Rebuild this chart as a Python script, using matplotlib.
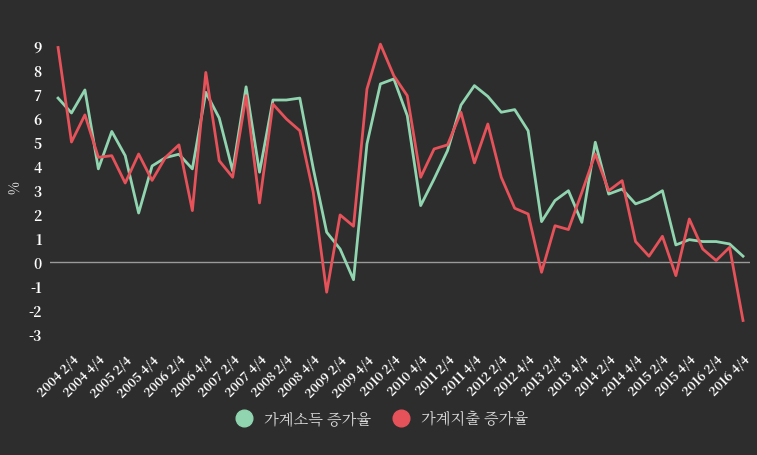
import matplotlib
matplotlib.use("Agg")
import matplotlib.pyplot as plt
import matplotlib.transforms as mtransforms
from matplotlib import font_manager as fm
from matplotlib.lines import Line2D

cjk = None
for f in fm.findSystemFonts():
    if "CJK" in f and ("Regular" in f or "CJK" in f):
        cjk = f
        if "Regular" in f:
            break
families = ["DejaVu Sans"]
if cjk:
    fm.fontManager.addfont(cjk)
    families = [fm.FontProperties(fname=cjk).get_name(), "DejaVu Sans"]
plt.rcParams["font.family"] = families

quarters = [f"{y} {q}/4" for y in range(2004, 2017) for q in range(1, 5)]
income = [6.83, 6.21, 7.17, 3.88, 5.44, 4.43, 2.04, 4.0, 4.35, 4.49, 3.88, 7.07, 6.0, 3.8, 7.3, 3.74,
          6.75, 6.75, 6.83, 3.9, 1.24, 0.54, -0.74, 4.92, 7.42, 7.63, 6.1, 2.35, 3.46, 4.64, 6.54, 7.35,
          6.9, 6.24, 6.35, 5.47, 1.68, 2.56, 2.97, 1.65, 4.99, 2.83, 3.04, 2.42, 2.63, 2.97, 0.71, 0.93,
          0.85, 0.85, 0.75, 0.24]
spending = [8.94, 5.0, 6.13, 4.36, 4.43, 3.29, 4.5, 3.4, 4.36, 4.88, 2.14, 7.9, 4.22, 3.53, 6.93, 2.46,
            6.58, 5.96, 5.47, 2.9, -1.26, 1.96, 1.49, 7.21, 9.08, 7.76, 6.93, 3.53, 4.71, 4.88, 6.24, 4.13,
            5.75, 3.53, 2.24, 2.0, -0.43, 1.51, 1.35, 2.9, 4.5, 2.97, 3.39, 0.85, 0.24, 1.07, -0.57, 1.79,
            0.54, 0.06, 0.61, -2.44]
yticks = list(range(-3, 10))
series_names = ["가계소득 증가율", "가계지출 증가율"]

bg = "#2d2d2d"
green = "#90d4b0"
red = "#e5525a"
fig = plt.figure(figsize=(7.57, 4.56), dpi=100, facecolor=bg)
ax = fig.add_axes([50/757, 1-345/456, 700/757, 315/456], facecolor=bg)
x = list(range(len(quarters)))
ax.plot(x, income, color=green, lw=2)
ax.plot(x, spending, color=red, lw=2)
ax.axhline(0, color="#9a9a9a", lw=1, zorder=0)
ax.set_xlim(-0.6, 51.52)
ax.set_ylim(-3.42, 9.71)
for s in ax.spines.values():
    s.set_visible(False)
ax.set_yticks(yticks)
ax.set_yticklabels([str(v) for v in yticks], color="white", fontsize=10, fontweight="bold")
off = mtransforms.ScaledTranslation(0, 8/100, fig.dpi_scale_trans)
for lab in ax.get_yticklabels():
    lab.set_transform(lab.get_transform() + off)
ax.tick_params(axis="both", length=0, pad=6)
ax.set_xticks(x[1::2])
ax.set_xticklabels(quarters[1::2], rotation=45, ha="right", rotation_mode="anchor",
                   color="white", fontsize=9, fontweight="bold")
ax.set_ylabel("%", color="white", fontsize=10, labelpad=4)
handles = [Line2D([], [], marker="o", ls="", color=green, markersize=12),
           Line2D([], [], marker="o", ls="", color=red, markersize=12)]
fig.legend(handles, series_names, loc="center", bbox_to_anchor=(0.5, 1-420/456), ncol=2,
           frameon=False, labelcolor="#dddddd", fontsize=11, handletextpad=0.3, columnspacing=1.0)
fig.savefig("out.png", dpi=100, facecolor=bg)
